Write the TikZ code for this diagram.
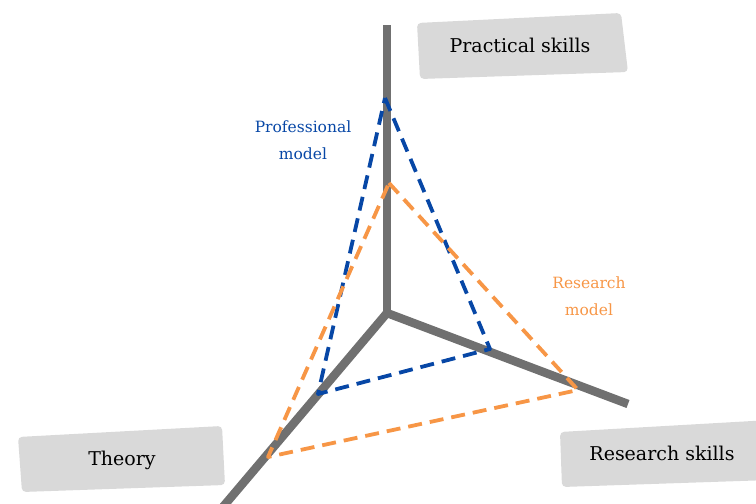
\documentclass[tikz,border=0pt]{standalone}
\usepackage{fontspec}
\setmainfont{DejaVu Serif}
\begin{document}
\begin{tikzpicture}[x=1pt,y=-1pt,
  axis/.style={draw=axisgray,line width=8.5pt},
  model/.style={dash pattern=on 14pt off 8pt,line width=3.8pt,line join=round},
  tag/.style={fill=tagfill,rounded corners=4pt},
  title/.style={font=\fontsize{19}{22}\selectfont,text=black},
  modellabel/.style={font=\fontsize{15.5}{27}\selectfont,align=center}]
\definecolor{axisgray}{HTML}{707070}
\definecolor{tagfill}{HTML}{D9D9D9}
\definecolor{profblue}{HTML}{0747A6}
\definecolor{resorange}{HTML}{F79646}
\useasboundingbox (0,0) rectangle (756,504);

% grey label backgrounds
\fill[tag] (417,23) -- (621,13) -- (628,72) -- (420,79) -- cycle;
\fill[tag] (18,437) -- (222,426) -- (225,485) -- (22,492) -- cycle;
\fill[tag] (560,432) -- (770,420) -- (770,480) -- (562,487) -- cycle;

% axes
\coordinate (o) at (387,313);
\coordinate (top) at (387,25);
\coordinate (right) at (628,404);
\coordinate (left) at (222,508);
\draw[axis] (o) -- (top);
\draw[axis] (o) -- (right);
\draw[axis] (o) -- (left);

% professional model
\coordinate (p1) at (385,98);
\coordinate (p2) at (490,349);
\coordinate (p3) at (318,394);
\draw[model,draw=profblue] (p1) -- (p2) -- (p3) -- cycle;

% research model
\coordinate (r1) at (389,183);
\coordinate (r2) at (578,390);
\coordinate (r3) at (268,457);
\draw[model,draw=resorange] (r1) -- (r2) -- (r3) -- cycle;

% labels
\node[title] (practical) at (520,45) {Practical skills};
\node[title] (theory) at (122,460) {Theory};
\node[title] (research) at (662,453) {Research skills};
\node[modellabel,text=profblue] (proflabel) at (303,140) {Professional\\model};
\node[modellabel,text=resorange] (reslabel) at (589,296) {Research\\model};
\end{tikzpicture}
\end{document}
